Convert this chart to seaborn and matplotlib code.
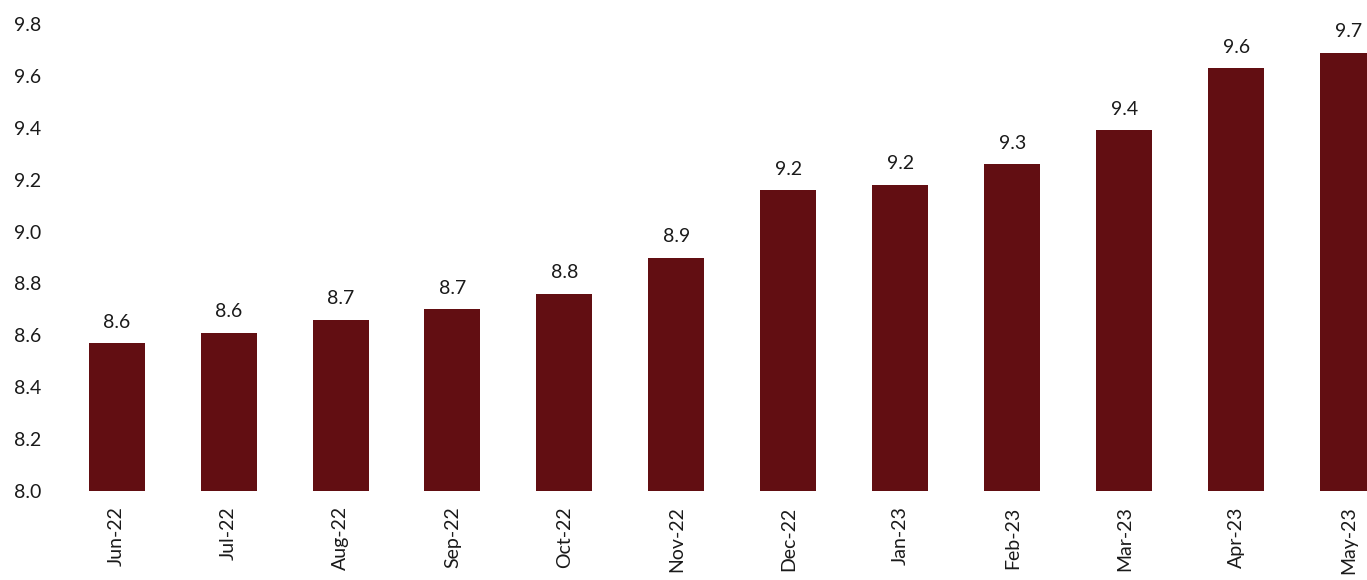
import matplotlib
matplotlib.use("Agg")
import matplotlib.pyplot as plt
import seaborn as sns
import pandas as pd

# Monthly series, Jun-22 to May-23
months = ["Jun-22", "Jul-22", "Aug-22", "Sep-22", "Oct-22", "Nov-22",
          "Dec-22", "Jan-23", "Feb-23", "Mar-23", "Apr-23", "May-23"]
values = [8.57, 8.61, 8.66, 8.70, 8.76, 8.90, 9.16, 9.18, 9.26, 9.39, 9.63, 9.69]

y_ticks = [8.0, 8.2, 8.4, 8.6, 8.8, 9.0, 9.2, 9.4, 9.6, 9.8]

df = pd.DataFrame({"month": months, "value": values})

sns.set_theme(style="white")
plt.rcParams["font.family"] = ["Lato", "DejaVu Sans"]

fig = plt.figure(figsize=(13.67, 5.8), dpi=100)
ax = fig.add_axes([0.0443, 0.1534, 0.983, 0.8052])

bar_color = "#620E12"
sns.barplot(data=df, x="month", y="value", color=bar_color, width=0.5,
            saturation=1, ax=ax, edgecolor=bar_color, linewidth=0)

for i, v in enumerate(values):
    ax.annotate(f"{v:.1f}", xy=(i, v), xytext=(0, 9), textcoords="offset points",
                ha="center", va="bottom", fontsize=14, color="#1a1a1a",
                annotation_clip=False)

ax.set_ylim(8.0, 9.8)
ax.set_xlim(-0.5, 11.5)
ax.set_yticks(y_ticks)
ax.set_yticklabels([f"{t:.1f}" for t in y_ticks])
ax.set_xlabel("")
ax.set_ylabel("")
ax.tick_params(axis="x", rotation=90, length=0, pad=11, labelsize=14, colors="#1a1a1a")
ax.tick_params(axis="y", length=0, pad=14, labelsize=14, colors="#1a1a1a")
for lbl in ax.get_xticklabels():
    lbl.set_va("top")
for s in ax.spines.values():
    s.set_visible(False)
ax.grid(False)

fig.savefig("out.png", dpi=100)
